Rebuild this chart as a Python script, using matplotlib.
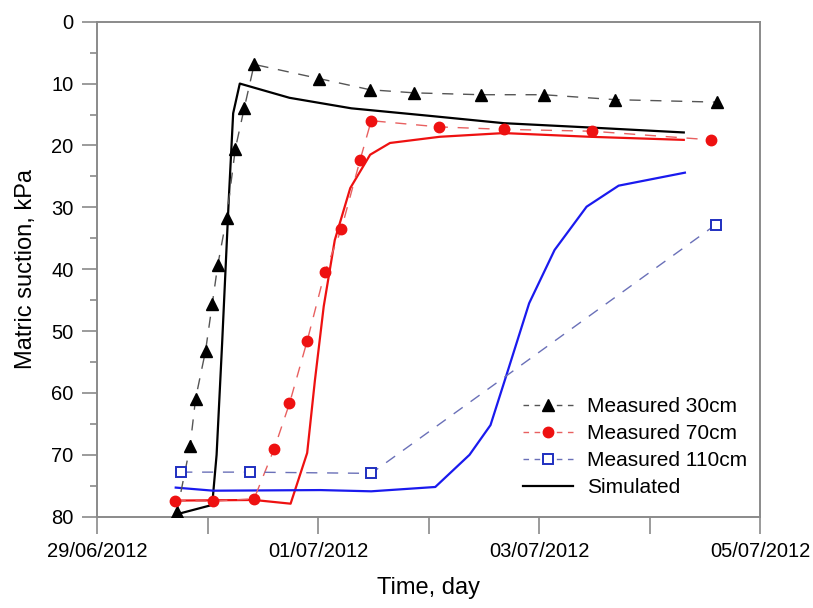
import datetime as dt

import matplotlib
matplotlib.use("Agg")
import matplotlib.pyplot as plt
import matplotlib.dates as mdates
from matplotlib.ticker import MultipleLocator
from matplotlib.lines import Line2D

plt.rcParams["font.family"] = ["Liberation Sans", "DejaVu Sans"]

START = dt.datetime(2012, 6, 29)

# times are in days after 29/06/2012 00:00, suction in kPa
t_meas_30 = [0.72, 0.84, 0.89, 0.98, 1.04, 1.09, 1.17, 1.25, 1.33, 1.42,
             2.01, 2.47, 2.87, 3.47, 4.04, 4.69, 5.61]
s_meas_30 = [79.3, 68.6, 60.9, 53.2, 45.7, 39.4, 31.7, 20.5, 14.0, 6.9,
             9.2, 11.0, 11.5, 11.8, 11.8, 12.6, 13.0]

t_meas_70 = [0.70, 1.05, 1.42, 1.60, 1.74, 1.90, 2.06, 2.21, 2.38, 2.48,
             3.09, 3.68, 4.48, 5.56]
s_meas_70 = [77.4, 77.5, 77.1, 69.1, 61.7, 51.6, 40.5, 33.5, 22.3, 16.0,
             17.0, 17.4, 17.7, 19.1]

t_meas_110 = [0.76, 1.38, 2.48, 5.60]
s_meas_110 = [72.8, 72.8, 73.0, 32.8]

t_sim_30 = [0.70, 1.04, 1.08, 1.13, 1.19, 1.23, 1.29, 1.74, 2.30, 3.00,
            3.68, 4.46, 5.31]
s_sim_30 = [79.7, 78.1, 70.0, 52.0, 28.8, 14.8, 10.0, 12.3, 14.0, 15.2,
            16.4, 17.1, 17.9]

t_sim_70 = [0.69, 1.42, 1.75, 1.90, 1.97, 2.05, 2.15, 2.29, 2.47,
            2.65, 3.10, 3.68, 4.46, 5.31]
s_sim_70 = [77.4, 77.3, 77.9, 69.7, 58.0, 46.0, 35.3, 26.9, 21.5,
            19.6, 18.6, 18.0, 18.6, 19.1]

t_sim_110 = [0.71, 1.05, 2.02, 2.48, 3.06, 3.37, 3.56, 3.71, 3.91, 4.14,
             4.43, 4.72, 5.32]
s_sim_110 = [75.3, 75.8, 75.7, 75.9, 75.2, 70.0, 65.2, 56.8, 45.5, 36.9,
             29.9, 26.5, 24.4]


def to_dates(days):
    return [START + dt.timedelta(days=d) for d in days]


BLACK = "#000000"
RED = "#ee1111"
BLUE = "#1a1aee"
DASH = (0, (8, 7))

fig = plt.figure(figsize=(8.13, 6.08), dpi=100)
ax = fig.add_axes([0.1197, 0.1502, 0.8151, 0.8141])

# simulated profiles
ax.plot(to_dates(t_sim_30), s_sim_30, color=BLACK, lw=1.6, zorder=3)
ax.plot(to_dates(t_sim_70), s_sim_70, color=RED, lw=1.6, zorder=3)
ax.plot(to_dates(t_sim_110), s_sim_110, color=BLUE, lw=1.6, zorder=3)

# measured profiles
ax.plot(to_dates(t_meas_30), s_meas_30, color="#555555", lw=1.0, ls=DASH,
        marker="^", ms=9, mfc=BLACK, mec=BLACK, zorder=4)
ax.plot(to_dates(t_meas_70), s_meas_70, color="#e86060", lw=1.0, ls=DASH,
        marker="o", ms=7.5, mfc=RED, mec=RED, zorder=4)
ax.plot(to_dates(t_meas_110), s_meas_110, color="#6a70b8", lw=1.0, ls=DASH,
        marker="s", ms=6.5, mfc="white", mec="#1f2fc0", mew=1.4, zorder=4)

ax.set_xlim(START, START + dt.timedelta(days=6))
ax.set_ylim(80, 0)

ax.xaxis.set_major_locator(mdates.DayLocator(interval=2))
ax.xaxis.set_minor_locator(mdates.DayLocator())
ax.xaxis.set_major_formatter(mdates.DateFormatter("%d/%m/%Y"))
ax.yaxis.set_major_locator(MultipleLocator(10))
ax.yaxis.set_minor_locator(MultipleLocator(5))

spine_col = "#8a8a8a"
for sp in ax.spines.values():
    sp.set_color(spine_col)
    sp.set_linewidth(1.4)

ax.tick_params(axis="x", which="both", direction="out", length=12,
               width=1.2, color=spine_col, pad=6, labelsize=14.5)
ax.tick_params(axis="y", which="major", direction="out", length=11,
               width=1.2, color=spine_col, pad=6, labelsize=14.5)
ax.tick_params(axis="y", which="minor", direction="out", length=5,
               width=1.2, color=spine_col)

ax.set_xlabel("Time, day", fontsize=17, labelpad=12)
ax.set_ylabel("Matric suction, kPa", fontsize=17, labelpad=10)

handles = [
    Line2D([0], [0], color="#555555", lw=1.0, ls=(0, (4, 4)), marker="^",
           ms=9, mfc=BLACK, mec=BLACK),
    Line2D([0], [0], color="#e86060", lw=1.0, ls=(0, (4, 4)), marker="o",
           ms=7.5, mfc=RED, mec=RED),
    Line2D([0], [0], color="#6a70b8", lw=1.0, ls=(0, (4, 4)), marker="s",
           ms=6.5, mfc="white", mec="#1f2fc0", mew=1.4),
    Line2D([0], [0], color=BLACK, lw=1.6),
]
labels = ["Measured 30cm", "Measured 70cm", "Measured 110cm", "Simulated"]
ax.legend(handles, labels, loc="lower right", bbox_to_anchor=(1.0, 0.014),
          frameon=False, fontsize=15, handlelength=2.4, handletextpad=0.7,
          labelspacing=0.38, borderaxespad=0.2)

fig.savefig("out.png", dpi=100)
